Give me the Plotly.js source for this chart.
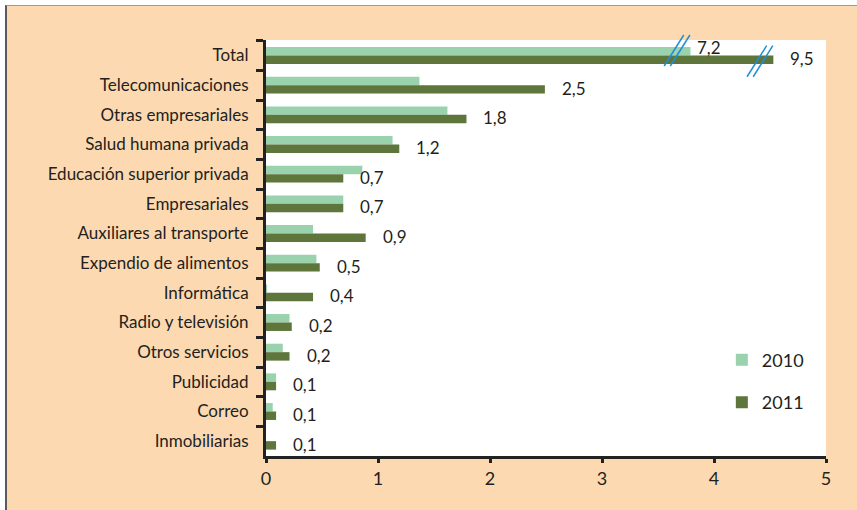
<!DOCTYPE html>
<html>
<head>
<meta charset="utf-8">
<script src="https://cdn.plot.ly/plotly-3.0.1.min.js"></script>
<style>
  html, body { margin: 0; padding: 0; background: #ffffff; width: 857px; height: 510px; overflow: hidden; }
  #frame { position: absolute; left: 5px; top: 5px; width: 852px; height: 505px;
           border-top: 1px solid #9a9a9a; border-left: 2px solid #5a5a5a; background: #FCD9B1; }
  #chart { position: absolute; left: 0; top: 0; width: 850px; height: 503px; }
</style>
</head>
<body>
<div id="frame"><div id="chart"></div></div>
<script>
// ---- data ----
const categories = [
  "Total", "Telecomunicaciones", "Otras empresariales", "Salud humana privada",
  "Educación superior privada", "Empresariales", "Auxiliares al transporte",
  "Expendio de alimentos", "Informática", "Radio y televisión", "Otros servicios",
  "Publicidad", "Correo", "Inmobiliarias"
];
// bar lengths as drawn (the Total bars are cut at an axis break)
const values2010 = [3.79, 1.37, 1.62, 1.13, 0.86, 0.69, 0.42, 0.45, 0.01, 0.21, 0.15, 0.09, 0.06, 0.0];
const values2011 = [4.53, 2.49, 1.79, 1.19, 0.69, 0.69, 0.89, 0.48, 0.42, 0.23, 0.21, 0.09, 0.09, 0.09];
const labels2011 = ["9,5", "2,5", "1,8", "1,2", "0,7", "0,7", "0,9", "0,5", "0,4", "0,2", "0,2", "0,1", "0,1", "0,1"];
const label2010Total = "7,2";
const seriesNames = ["2010", "2011"];
const xTickVals = [0, 1, 2, 3, 4, 5];

// ---- styles ----
const FONT = "Lato, 'Open Sans', sans-serif";
const TXT = "#231F20";
const C2010 = "#9AD2AD";
const C2011 = "#5E753B";
const BREAK = "#1F8FD4";

const traces = [
  { type: "bar", orientation: "h", name: seriesNames[0], x: values2010, y: categories,
    marker: { color: C2010 }, legendgroup: "a", hoverinfo: "skip" },
  { type: "bar", orientation: "h", name: seriesNames[1], x: values2011, y: categories,
    marker: { color: C2011 }, legendgroup: "b", hoverinfo: "skip" }
];

const n = categories.length;
const annotations = categories.map((c, i) => ({
  x: values2011[i], y: c, xref: "x", yref: "y", text: labels2011[i],
  showarrow: false, xanchor: "left", yanchor: "middle", xshift: 15, yshift: -3,
  font: { family: FONT, size: 17, color: TXT }
}));
annotations.push({
  x: values2010[0], y: categories[0], xref: "x", yref: "y", text: label2010Total,
  showarrow: false, xanchor: "left", yanchor: "middle", xshift: 5, yshift: 8,
  font: { family: FONT, size: 17, color: TXT }
});

// axis-break slashes on the Total bars (relative to the drawn bar ends)
function idxToPaper(idx) { return 1 - (idx + 0.5) / n; }
function slashes(end, top, bottom) {
  return [[-0.235, -0.06], [-0.18, -0.005]].map(d => ({
    type: "line", xref: "x", yref: "paper",
    x0: end + d[0], y0: idxToPaper(bottom), x1: end + d[1], y1: idxToPaper(top),
    line: { color: BREAK, width: 1.5 }
  }));
}
const shapes = [].concat(
  slashes(values2010[0], -0.668, 0.375),
  slashes(values2011[0], -0.308, 0.736)
);

const layout = {
  width: 850, height: 503,
  margin: { l: 259, r: 31, t: 34, b: 53, pad: 0 },
  paper_bgcolor: "#FCD9B1",
  plot_bgcolor: "#ffffff",
  barmode: "group",
  bargap: 0.43,
  bargroupgap: 0,
  font: { family: FONT, size: 17, color: TXT },
  showlegend: true,
  legend: {
    x: 0.814, y: 0.18, xanchor: "left", yanchor: "middle",
    bgcolor: "rgba(0,0,0,0)", traceorder: "grouped", tracegroupgap: 16,
    font: { family: FONT, size: 18, color: TXT }, itemwidth: 30
  },
  xaxis: {
    range: [0, 5], tickvals: xTickVals, ticktext: xTickVals.map(String),
    showgrid: false, zeroline: false, showline: true, linecolor: "#222", linewidth: 3,
    ticks: "outside", ticklen: 4, tickwidth: 3, tickcolor: "#222",
    tickfont: { family: FONT, size: 18, color: TXT }, fixedrange: true
  },
  yaxis: {
    type: "category", autorange: "reversed", tickson: "boundaries",
    showgrid: false, zeroline: false, showline: true, linecolor: "#222", linewidth: 3,
    ticks: "outside", ticklen: 7, tickwidth: 3, tickcolor: "#222",
    ticklabelstandoff: 11,
    tickfont: { family: FONT, size: 17, color: TXT }, fixedrange: true
  },
  annotations: annotations,
  shapes: shapes
};

Plotly.newPlot("chart", traces, layout, { displayModeBar: false, staticPlot: true });
</script>
</body>
</html>
